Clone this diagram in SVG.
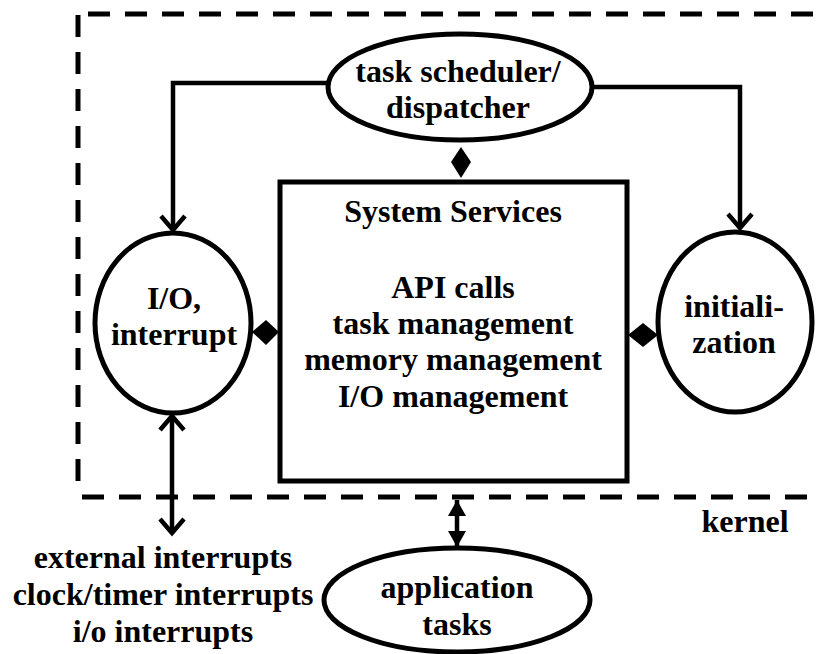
<svg xmlns="http://www.w3.org/2000/svg" width="817" height="654" viewBox="0 0 817 654">
  <style>
    .shape { fill: #fff; stroke: #000; stroke-width: 5; }
    .boundary { fill: none; stroke: #000; stroke-width: 5; stroke-dasharray: 22 15; }
    .wire { fill: none; stroke: #000; stroke-width: 4.5; }
    .joint { fill: #000; stroke: none; }
    text { font-family: "Liberation Serif", "Times New Roman", serif; font-weight: bold; font-size: 32px; fill: #000; text-anchor: middle; }
  </style>
  <defs>
    <marker id="open" markerUnits="userSpaceOnUse" markerWidth="24" markerHeight="30" refX="18" refY="15" orient="auto-start-reverse" overflow="visible">
      <path d="M4,3 L18,15 L4,27" fill="none" stroke="#000" stroke-width="4.5"/>
    </marker>
    <marker id="solid" markerUnits="userSpaceOnUse" markerWidth="18" markerHeight="18" refX="16" refY="9" orient="auto-start-reverse" overflow="visible">
      <path d="M0,0 L16,9 L0,18 Z" fill="#000"/>
    </marker>
  </defs>

  <!-- kernel boundary -->
  <g id="kernel">
    <line class="boundary" x1="88" y1="14" x2="817" y2="14"/>
    <line class="boundary" x1="78" y1="15" x2="78" y2="482"/>
    <line class="boundary" x1="82" y1="497" x2="817" y2="497"/>
    <text x="745" y="532">kernel</text>
  </g>

  <!-- connectors -->
  <g id="connectors">
    <path class="wire" d="M328,83 H173 V230" marker-end="url(#open)"/>
    <path class="wire" d="M592,87 H740 V228" marker-end="url(#open)"/>
    <path class="wire" d="M172,416 V533" marker-start="url(#open)" marker-end="url(#open)"/>
    <path class="wire" d="M457,500 V547" marker-start="url(#solid)" marker-end="url(#solid)"/>
    <polygon class="joint" points="461,147 471,162 461,178 451,162"/>
    <polygon class="joint" points="252,332 266,320 279,332 266,345"/>
    <polygon class="joint" points="628,335 643,323 658,335 643,347"/>
  </g>

  <g id="scheduler">
    <ellipse class="shape" cx="460" cy="87" rx="132" ry="53"/>
    <text x="458" y="82">task scheduler/</text>
    <text x="458" y="118">dispatcher</text>
  </g>

  <g id="services">
    <rect class="shape" x="280" y="182" width="347" height="299"/>
    <text x="453" y="222">System Services</text>
    <text x="453" y="298">API calls</text>
    <text x="453" y="334">task management</text>
    <text x="453" y="370">memory management</text>
    <text x="453" y="407">I/O management</text>
  </g>

  <g id="io-interrupt">
    <ellipse class="shape" cx="173" cy="323" rx="78" ry="90"/>
    <text x="174" y="309">I/O,</text>
    <text x="174" y="345">interrupt</text>
  </g>

  <g id="initialization">
    <ellipse class="shape" cx="735" cy="322" rx="77" ry="90"/>
    <text x="734" y="317">initiali-</text>
    <text x="734" y="353">zation</text>
  </g>

  <g id="application">
    <ellipse class="shape" cx="457" cy="600" rx="133" ry="52"/>
    <text x="457" y="598">application</text>
    <text x="457" y="635">tasks</text>
  </g>

  <g id="interrupt-sources">
    <text x="163" y="568">external interrupts</text>
    <text x="163" y="605">clock/timer interrupts</text>
    <text x="163" y="642">i/o interrupts</text>
  </g>
</svg>
